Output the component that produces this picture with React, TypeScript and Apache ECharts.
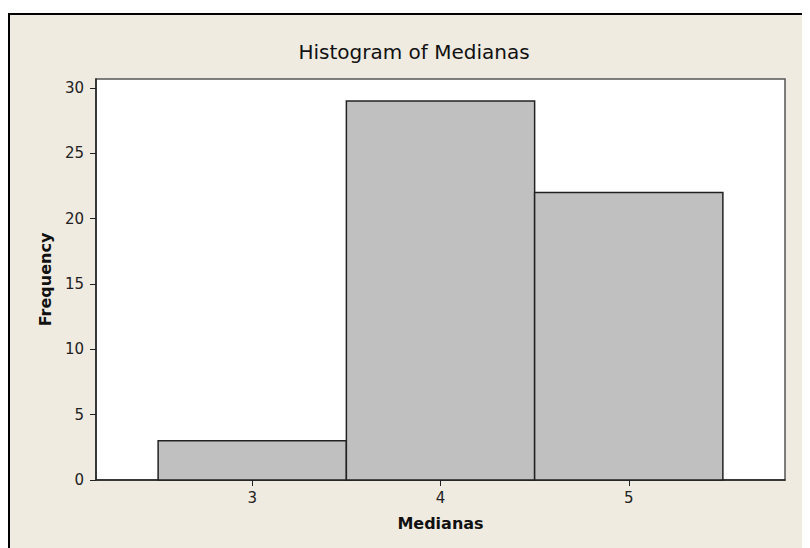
import React, { useEffect, useRef } from "react";
import * as echarts from "echarts";

const binCenters = [3, 4, 5];
const frequencies = [3, 29, 22];
const xTicks = [3, 4, 5];
const yTicks = [0, 5, 10, 15, 20, 25, 30];
const titleText = "Histogram of Medianas";
const xName = "Medianas";
const yName = "Frequency";

export default function App() {
  const ref = useRef<HTMLDivElement>(null);
  useEffect(() => {
    if (!ref.current) return;
    const chart = echarts.init(ref.current, null, { renderer: "svg" });
    const font = "DejaVu Sans";
    chart.setOption({
      animation: false,
      backgroundColor: "#ffffff",
      graphic: [
        {
          type: "rect",
          z: -10,
          silent: true,
          shape: { x: 1, y: 6, width: 900, height: 700 },
          style: { fill: "#EFEBE1", stroke: "#000000", lineWidth: 2 },
        },
        {
          type: "text",
          x: 406,
          y: 44,
          silent: true,
          style: {
            text: titleText,
            fontFamily: font,
            fontSize: 20,
            fill: "#111111",
            textAlign: "center",
            textVerticalAlign: "middle",
          },
        },
      ],
      grid: {
        left: 88,
        right: 25,
        top: 71,
        bottom: 68,
        show: true,
        backgroundColor: "#ffffff",
        borderColor: "#555555",
        borderWidth: 1.5,
      },
      xAxis: {
        type: "value",
        min: 2.17,
        max: 5.83,
        name: xName,
        nameLocation: "middle",
        nameGap: 35,
        nameTextStyle: { fontFamily: font, fontSize: 16, fontWeight: "bold", color: "#111" },
        splitLine: { show: false },
        axisLine: { show: true, lineStyle: { color: "#222", width: 1.5 } },
        axisTick: { show: true, customValues: xTicks, length: 6, lineStyle: { color: "#222" } },
        axisLabel: { customValues: xTicks, fontFamily: font, fontSize: 15, color: "#222", margin: 10 },
      },
      yAxis: {
        type: "value",
        min: 0,
        max: 30.68,
        name: yName,
        nameLocation: "middle",
        nameGap: 43,
        nameTextStyle: { fontFamily: font, fontSize: 16, fontWeight: "bold", color: "#111" },
        splitLine: { show: false },
        axisLine: { show: true, lineStyle: { color: "#222", width: 1.5 } },
        axisTick: { show: true, customValues: yTicks, length: 6, lineStyle: { color: "#222" } },
        axisLabel: { customValues: yTicks, fontFamily: font, fontSize: 15, color: "#222", margin: 12 },
      },
      series: [
        {
          type: "custom",
          data: binCenters.map((c, i) => [c, frequencies[i]]),
          encode: { x: 0, y: 1 },
          renderItem: (params: any, api: any) => {
            const c = api.value(0);
            const f = api.value(1);
            const p0 = api.coord([c - 0.5, f]);
            const p1 = api.coord([c + 0.5, 0]);
            return {
              type: "rect",
              shape: { x: p0[0], y: p0[1], width: p1[0] - p0[0], height: p1[1] - p0[1] },
              style: { fill: "#C0C0C0", stroke: "#222222", lineWidth: 1.5 },
            };
          },
        },
      ],
    });
    return () => chart.dispose();
  }, []);
  return <div ref={ref} style={{ width: 802, height: 540 }} />;
}
